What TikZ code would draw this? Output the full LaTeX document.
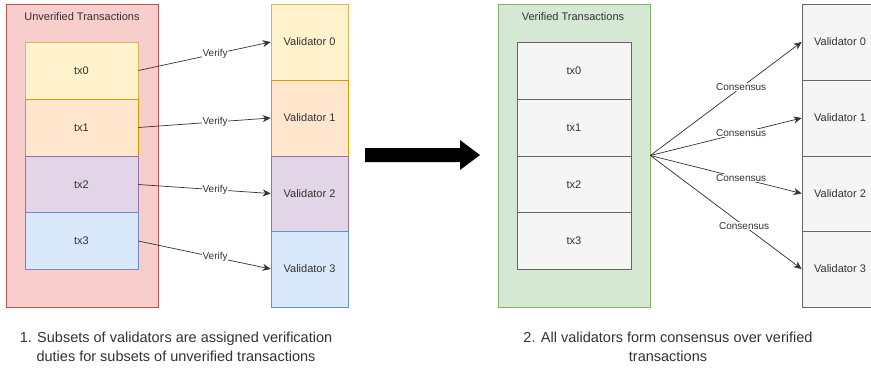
\documentclass[tikz,border=0pt]{standalone}
\usepackage{fontspec}
\setmainfont{Liberation Sans}
\usetikzlibrary{arrows.meta,calc}
\definecolor{redF}{HTML}{F8CECC}\definecolor{redD}{HTML}{B85450}
\definecolor{yelF}{HTML}{FFF2CC}\definecolor{yelD}{HTML}{D6B656}
\definecolor{oraF}{HTML}{FFE6CC}\definecolor{oraD}{HTML}{D79B00}
\definecolor{purF}{HTML}{E1D5E7}\definecolor{purD}{HTML}{9673A6}
\definecolor{bluF}{HTML}{DAE8FC}\definecolor{bluD}{HTML}{6C8EBF}
\definecolor{grnF}{HTML}{D5E8D4}\definecolor{grnD}{HTML}{82B366}
\definecolor{gryF}{HTML}{F5F5F5}\definecolor{gryD}{HTML}{666666}
\definecolor{txt}{HTML}{333333}
\begin{document}
\begin{tikzpicture}[x=1pt,y=-1pt,
  box/.style={draw, line width=0.7pt, inner sep=0pt, text=txt,
    font=\fontsize{11}{13}\selectfont},
  cont/.style={box, minimum width=152pt, minimum height=303pt},
  txbox/.style={box, minimum width=113pt, minimum height=57pt},
  valbox/.style={box, minimum width=77pt, minimum height=76pt},
  title/.style={text=txt, font=\fontsize{11}{13}\selectfont, inner sep=0pt},
  arr/.style={draw=black!80, line width=0.7pt, -{Stealth[length=8pt,width=7pt]}},
  lbl/.style={fill=white, text=txt, inner sep=0.5pt, font=\fontsize{10}{12}\selectfont},
  caption/.style={text=txt, align=center, font=\fontsize{14.5}{19}\selectfont, inner sep=0pt}]
\clip (0,0) rectangle (871,370);
\fill[white] (0,0) rectangle (871,370);
% left panel
\node[cont, fill=redF, draw=redD] (lc) at (82,155.5) {};
\node[title] (lt) at (82,17) {Unverified Transactions};
\node[txbox, fill=yelF, draw=yelD] (l0) at (81.5,70.5) {tx0};
\node[txbox, fill=oraF, draw=oraD] (l1) at (81.5,127.5) {tx1};
\node[txbox, fill=purF, draw=purD] (l2) at (81.5,184.5) {tx2};
\node[txbox, fill=bluF, draw=bluD] (l3) at (81.5,241) {tx3};
\node[valbox, fill=yelF, draw=yelD] (v0) at (309.5,42) {Validator 0};
\node[valbox, fill=oraF, draw=oraD] (v1) at (309.5,118) {Validator 1};
\node[valbox, fill=purF, draw=purD, minimum height=75pt] (v2) at (309.5,193.5) {Validator 2};
\node[valbox, fill=bluF, draw=bluD] (v3) at (309.5,269) {Validator 3};
\draw[arr] (l0.east) -- node[lbl, pos=0.58] {Verify} (v0.west);
\draw[arr] (l1.east) -- node[lbl, pos=0.58] {Verify} (v1.west);
\draw[arr] (l2.east) -- node[lbl, pos=0.58] {Verify} (v2.west);
\draw[arr] (l3.east) -- node[lbl, pos=0.58] {Verify} (v3.west);
% big arrow
\coordinate (ba) at (365,155);
\coordinate (bb) at (480,155);
\fill[black] ($(ba)+(0,-7)$) -- (460,148) -- (460,140) -- (bb) -- (460,170) -- (460,162) -- ($(ba)+(0,7)$) -- cycle;
% right panel
\node[cont, fill=grnF, draw=grnD] (rc) at (574,155.5) {};
\node[title] (rt) at (573,17) {Verified Transactions};
\node[txbox, fill=gryF, draw=gryD, minimum width=114pt] (r0) at (574,70.5) {tx0};
\node[txbox, fill=gryF, draw=gryD, minimum width=114pt] (r1) at (574,127.5) {tx1};
\node[txbox, fill=gryF, draw=gryD, minimum width=114pt] (r2) at (574,184.5) {tx2};
\node[txbox, fill=gryF, draw=gryD, minimum width=114pt] (r3) at (574,241) {tx3};
\node[valbox, fill=gryF, draw=gryD, minimum width=76pt] (g0) at (840,42) {Validator 0};
\node[valbox, fill=gryF, draw=gryD, minimum width=76pt] (g1) at (840,118) {Validator 1};
\node[valbox, fill=gryF, draw=gryD, minimum width=76pt, minimum height=75pt] (g2) at (840,193.5) {Validator 2};
\node[valbox, fill=gryF, draw=gryD, minimum width=76pt] (g3) at (840,269) {Validator 3};
\draw[arr] (rc.east) -- node[lbl, pos=0.6] {Consensus} (g0.west);
\draw[arr] (rc.east) -- node[lbl, pos=0.6] {Consensus} (g1.west);
\draw[arr] (rc.east) -- node[lbl, pos=0.6] {Consensus} (g2.west);
\draw[arr] (rc.east) -- node[lbl, pos=0.62] {Consensus} (g3.west);
% captions
\node[caption] (c1) at (176,347) {1. Subsets of validators are assigned verification\\duties for subsets of unverified transactions};
\node[caption] (c2) at (668,347) {2. All validators form consensus over verified\\transactions};
\end{tikzpicture}
\end{document}
